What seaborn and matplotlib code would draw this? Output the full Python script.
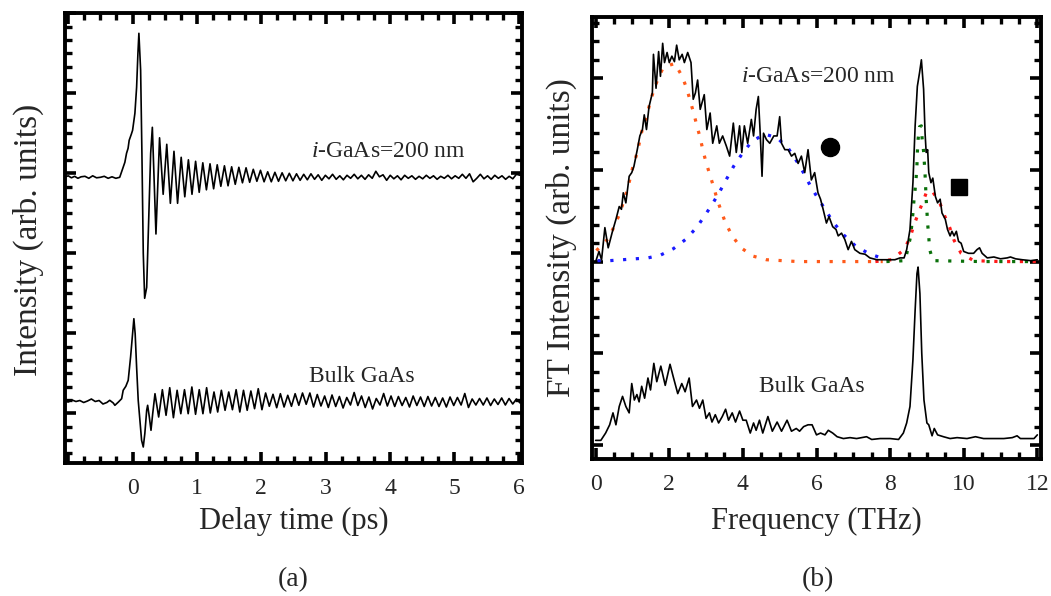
import numpy as np
import matplotlib
matplotlib.use("Agg")
import matplotlib.pyplot as plt
import seaborn as sns
from matplotlib.ticker import MultipleLocator, FixedLocator

# ---------------- (a) time-domain traces ----------------
# time in ps, signal in arb. units relative to each trace's own baseline
igaas_pulse_t = [-1.06, -1.0, -0.95, -0.9, -0.85, -0.8, -0.74, -0.68, -0.62, -0.56, -0.5,
                 -0.44, -0.38, -0.32, -0.26, -0.2, -0.147, -0.12, -0.094, -0.07, -0.053,
                 -0.02, 0.0, 0.036, 0.0625, 0.083, 0.098, 0.125, 0.145, 0.166, 0.1875,
                 0.219, 0.25, 0.281]
igaas_pulse_v = [0.0, 0.15, -0.05, 0.1, -0.1, 0.05, 0.1, -0.1, 0.15, -0.05, 0.0,
                 0.1, -0.1, 0.05, -0.1, 0.0, 1.0, 1.5, 2.4, 2.9, 3.7,
                 4.3, 4.7, 6.4, 9.0, 12.4, 14.4, 10.7, 2.4, -7.6, -12.1,
                 -11.0, -4.3, 2.4]
igaas_tail_t0 = 0.307      # first phonon peak after the pulse (ps)
igaas_tail_dt = 0.056      # spacing of successive extrema (ps)
igaas_tail_v = [5.0, -5.67, 3.95, -1.7, 3.3, -2.6, 2.6, -2.6, 2.0, -1.95, 1.75, -1.7, 1.6,
                -1.5, 1.45, -1.25, 1.35, -1.15, 1.25, -0.9, 1.15, -0.85, 1.05, -0.7, 1.0,
                -0.55, 0.95, -0.5, 0.8, -0.4, 0.7, -0.45, 0.55,
                -0.45, 0.5, -0.4, 0.45, -0.35, 0.4, -0.35, 0.35, -0.3, 0.3,
                -0.25, 0.35, -0.2, 0.25, -0.3, 0.2, -0.15, 0.3, -0.2, 0.15,
                -0.25, 0.2, -0.1, 0.3, -0.15, 0.2, -0.2, 0.25, -0.1, 0.6,
                0.05, 0.25, -0.3, 0.2, -0.15, 0.15, -0.25, 0.2, -0.1, 0.15,
                -0.2, 0.1, -0.15, 0.2, -0.1, 0.15, -0.2, 0.1, -0.1, 0.2,
                -0.15, 0.15, -0.1, 0.3, -0.1, 0.35, -0.45, -0.1, 0.3, -0.15,
                0.15, -0.2, 0.2, -0.1, 0.15, -0.2, 0.1, -0.15, 0.3, 0.2, 0.3]
igaas_offset = 23.6

bulk_pulse_t = [-1.06, -1.0, -0.94, -0.88, -0.82, -0.76, -0.7, -0.64, -0.58, -0.52, -0.46,
                -0.4, -0.355, -0.3, -0.275, -0.22, -0.17, -0.146, -0.105, -0.068, -0.031,
                0.0, 0.02, 0.04, 0.0625, 0.0875, 0.114, 0.14, 0.166, 0.19, 0.219, 0.234,
                0.26, 0.286, 0.3125]
bulk_pulse_v = [0.1, 0.0, 0.2, 0.05, 0.15, -0.05, 0.1, 0.3, 0.05, 0.15, -0.2,
                -0.05, 0.17, -0.1, -0.33, 0.0, 0.33, 1.17, 1.57, 2.17, 4.5,
                6.83, 8.33, 6.83, 3.5, 0.17, -1.83, -3.83, -4.5, -3.17, -0.83, -0.33,
                -1.5, -2.83, -1.17]
bulk_tail_t0 = 0.348
bulk_tail_dt = 0.0573
bulk_tail_v = [0.83, -1.5, 1.23, -1.33, 1.43, -1.57, 1.17, -1.17, 1.23, -1.17, 1.5, -1.23,
               1.23, -1.17, 1.43, -1.1, 1.0, -1.0, 1.17, -0.83, 1.0, -0.77, 1.23, -1.0,
               1.17, -0.83, 1.1, -0.67, 1.33, -0.77, 0.9, -0.43, 0.77, -0.57, 0.83, -0.5,
               0.67, -0.43, 0.83, -0.33, 0.9, -0.23,
               0.9, -0.5, 0.75, -0.4, 0.6, -0.55, 0.7, -0.45, 0.55, -0.6, 0.45, -0.3,
               0.95, -0.35, 0.6, -0.55, 0.5, -0.7, 0.35, -0.3, 0.85, -0.4, 0.6, -0.45,
               0.55, -0.35, 0.45, -0.5, 0.6, -0.35, 0.5, -0.45, 0.55, -0.4, 0.45, -0.45,
               0.4, -0.5, 0.5, -0.35, 0.45, -0.3, 0.85, -0.55, 0.3, -0.3, 0.35, -0.3,
               0.4, -0.35, 0.3, -0.25, 0.4, -0.3, 0.35, -0.2, 0.3, -0.1, 0.2]
bulk_offset = 1.13

# ---------------- (b) FT spectra ----------------
igaas_f = [0.0, 0.09, 0.16, 0.25, 0.34, 0.45, 0.55, 0.64, 0.70, 0.75, 0.82, 0.91, 0.98, 1.04,
           1.13, 1.20, 1.27, 1.32, 1.38, 1.45, 1.54, 1.57, 1.64, 1.71, 1.76, 1.82, 1.87, 1.94,
           2.00, 2.07, 2.14, 2.20, 2.27, 2.35, 2.41, 2.50, 2.59, 2.65, 2.71, 2.77, 2.84, 2.95,
           3.02, 3.11, 3.18, 3.29, 3.36, 3.45, 3.55, 3.64, 3.74, 3.82, 3.91, 3.97, 4.04, 4.13,
           4.23, 4.29, 4.36, 4.42, 4.47, 4.52, 4.56, 4.64, 4.73, 4.84, 4.93, 5.00, 5.05, 5.14,
           5.23, 5.32, 5.41, 5.50, 5.59, 5.68, 5.77, 5.86, 5.95, 6.04, 6.11, 6.18, 6.27, 6.34,
           6.44, 6.53, 6.59, 6.68, 6.77, 6.86, 6.95, 7.04, 7.18, 7.32, 7.45, 7.64, 7.82, 8.00,
           8.13, 8.27, 8.38, 8.45, 8.54, 8.62, 8.68, 8.74, 8.80, 8.85, 8.91, 8.95, 8.98, 9.02,
           9.05, 9.11, 9.16, 9.23, 9.29, 9.36, 9.41, 9.50, 9.56, 9.63, 9.68, 9.74, 9.80, 9.86,
           9.93, 10.00, 10.13, 10.27, 10.36, 10.43, 10.50, 10.64, 10.82, 11.00, 11.18, 11.27,
           11.41, 11.59, 11.82, 12.00]
igaas_amp = [0.00, 0.11, 0.02, 0.37, 0.15, 0.32, 0.46, 0.60, 0.57, 0.75, 0.64, 0.93, 0.97, 1.04,
             1.22, 1.37, 1.44, 1.60, 1.44, 1.69, 1.84, 2.26, 1.89, 2.29, 2.02, 2.38, 2.17, 2.28,
             2.17, 2.24, 2.18, 2.36, 2.20, 2.26, 2.17, 2.28, 2.17, 1.77, 1.84, 1.98, 1.66, 1.82,
             1.44, 1.62, 1.29, 1.48, 1.29, 1.37, 1.26, 1.15, 1.51, 1.19, 1.48, 1.19, 1.48, 1.29,
             1.55, 1.37, 1.66, 1.80, 1.40, 0.93, 1.40, 1.33, 1.29, 1.37, 1.37, 1.58, 1.29, 1.22,
             1.22, 1.15, 1.18, 1.07, 1.15, 0.97, 1.22, 0.89, 0.97, 0.75, 0.68, 0.57, 0.42, 0.49,
             0.38, 0.35, 0.28, 0.31, 0.24, 0.13, 0.22, 0.13, 0.09, 0.08, 0.04, 0.02, 0.02, 0.02,
             0.02, 0.04, 0.04, 0.13, 0.35, 0.86, 1.48, 1.91, 2.06, 2.20, 1.88, 1.40, 1.19, 1.22,
             0.97, 0.86, 0.91, 0.71, 0.64, 0.68, 0.53, 0.46, 0.35, 0.28, 0.33, 0.28, 0.33, 0.22,
             0.20, 0.11, 0.09, 0.09, 0.13, 0.15, 0.09, 0.04, 0.05, 0.03, 0.04, 0.05,
             0.03, 0.02, 0.01, 0.02]
igaas_spec_offset = 2.0

fit1_f = [0.02, 0.34, 0.50, 0.65, 0.86, 1.02, 1.13, 1.27, 1.38, 1.47, 1.57, 1.68, 1.84, 2.15,
          2.35, 2.48, 2.57, 2.67, 2.75, 2.84, 2.91, 3.00, 3.10, 3.20, 3.30, 3.41, 3.53, 3.71,
          3.95, 4.27, 4.64, 5.50, 6.50, 7.80]
fit1_amp = [0.12, 0.25, 0.38, 0.52, 0.78, 1.05, 1.19, 1.45, 1.58, 1.72, 1.86, 1.98, 2.12, 2.16,
            2.02, 1.88, 1.75, 1.61, 1.48, 1.35, 1.22, 1.08, 0.95, 0.82, 0.68, 0.55, 0.42, 0.28,
            0.15, 0.06, 0.02, 0.0, 0.0, 0.0]
fit2_f = [0.05, 0.38, 0.73, 1.07, 1.42, 1.76, 2.11, 2.44, 2.74, 2.98, 3.19, 3.38, 3.57, 3.75,
          3.97, 4.24, 4.59, 4.93, 5.24, 5.47, 5.66, 5.84, 6.04, 6.25, 6.45, 6.74, 7.06, 7.41, 7.75]
fit2_amp = [0.01, 0.01, 0.02, 0.03, 0.04, 0.07, 0.14, 0.24, 0.37, 0.51, 0.64, 0.77, 0.91, 1.04,
            1.17, 1.31, 1.39, 1.35, 1.23, 1.09, 0.96, 0.82, 0.69, 0.56, 0.43, 0.29, 0.17, 0.09, 0.04]
fit3_f = [7.60, 8.04, 8.38, 8.54, 8.65, 8.78, 8.91, 9.00, 9.16, 9.36, 9.48, 9.62, 9.74, 9.93,
          10.27, 11.00, 12.00]
fit3_amp = [0.0, 0.02, 0.13, 0.26, 0.40, 0.54, 0.67, 0.77, 0.76, 0.63, 0.50, 0.37, 0.23, 0.09,
            0.01, 0.0, 0.0]
fit4_f = [7.90, 8.41, 8.56, 8.62, 8.65, 8.68, 8.71, 8.73, 8.74, 8.76, 8.80, 8.85, 8.87, 8.91,
          8.93, 8.95, 8.98, 9.00, 9.02, 9.05, 9.07, 9.16, 10.5, 12.0]
fit4_amp = [0.0, 0.01, 0.28, 0.53, 0.68, 0.79, 0.93, 1.06, 1.19, 1.33, 1.47, 1.48, 1.34, 1.20,
            1.08, 0.95, 0.68, 0.55, 0.41, 0.28, 0.14, 0.01, 0.0, 0.0]

bulk_f = [0.00, 0.14, 0.27, 0.38, 0.47, 0.55, 0.64, 0.73, 0.82, 0.91, 0.98, 1.05, 1.12, 1.18,
          1.25, 1.33, 1.42, 1.49, 1.58, 1.66, 1.77, 1.89, 2.02, 2.11, 2.23, 2.34, 2.43, 2.54,
          2.63, 2.74, 2.82, 2.91, 3.00, 3.09, 3.16, 3.25, 3.34, 3.44, 3.53, 3.61, 3.71, 3.80,
          3.91, 4.00, 4.09, 4.20, 4.29, 4.36, 4.45, 4.54, 4.68, 4.80, 4.93, 5.05, 5.20, 5.32,
          5.45, 5.54, 5.65, 5.77, 5.88, 6.00, 6.11, 6.23, 6.32, 6.44, 6.56, 6.73, 6.91, 7.09,
          7.36, 7.50, 7.73, 8.00, 8.23, 8.36, 8.45, 8.54, 8.62, 8.68, 8.73, 8.76, 8.81, 8.86,
          8.92, 9.00, 9.05, 9.14, 9.20, 9.29, 9.45, 9.63, 9.82, 10.09, 10.32, 10.54, 10.82,
          11.09, 11.32, 11.45, 11.54, 11.73, 11.91, 12.00]
bulk_amp = [0.05, 0.05, 0.13, 0.22, 0.35, 0.22, 0.42, 0.53, 0.42, 0.35, 0.67, 0.49, 0.55, 0.47,
            0.64, 0.51, 0.73, 0.60, 0.89, 0.69, 0.86, 0.65, 0.88, 0.74, 0.56, 0.67, 0.58, 0.73,
            0.42, 0.49, 0.40, 0.49, 0.29, 0.35, 0.25, 0.33, 0.24, 0.31, 0.39, 0.27, 0.35, 0.25,
            0.37, 0.27, 0.27, 0.13, 0.24, 0.16, 0.27, 0.13, 0.31, 0.15, 0.25, 0.15, 0.27, 0.15,
            0.18, 0.15, 0.20, 0.22, 0.22, 0.11, 0.13, 0.11, 0.16, 0.13, 0.09, 0.07, 0.08, 0.07,
            0.09, 0.06, 0.07, 0.07, 0.06, 0.13, 0.24, 0.42, 0.93, 1.47, 1.87, 1.94, 1.65, 1.00,
            0.49, 0.24, 0.22, 0.10, 0.18, 0.11, 0.09, 0.07, 0.08, 0.07, 0.09, 0.07, 0.07,
            0.07, 0.08, 0.10, 0.07, 0.07, 0.07, 0.11]

circle_mark = (6.36, 3.25)
square_mark = (9.86, 2.81)

time_ticks = [0, 1, 2, 3, 4, 5, 6]
freq_ticks = [0, 2, 4, 6, 8, 10, 12]

# ---------------- style ----------------
sns.set_theme(style="ticks")
plt.rcParams["font.family"] = ["Liberation Serif", "DejaVu Serif"]
plt.rcParams["mathtext.fontset"] = "custom"
plt.rcParams["mathtext.rm"] = "Liberation Serif"
plt.rcParams["mathtext.it"] = "Liberation Serif:italic"

fig = plt.figure(figsize=(10.51, 5.96), dpi=100)
W, H = 1051, 596
axL = fig.add_axes([65 / W, 1 - 463 / H, 457 / W, 450 / H])
axR = fig.add_axes([592 / W, 1 - 459 / H, 449 / W, 442 / H])

def style(ax):
    for s in ax.spines.values():
        s.set_linewidth(2.8)
        s.set_color("black")
        s.set_visible(True)
    ax.tick_params(which="both", direction="in", top=True, bottom=True, left=True, right=True,
                   color="black", labelsize=17, pad=11)
    ax.tick_params(which="major", length=8, width=2.6)
    ax.tick_params(which="minor", length=5, width=2.4)
    ax.tick_params(axis="y", which="both", labelleft=False, left=True, right=True)
    ax.grid(False)
    ax.set_facecolor("white")

# ---- (a)
t_ig = np.concatenate([igaas_pulse_t, igaas_tail_t0 + igaas_tail_dt * np.arange(len(igaas_tail_v))])
v_ig = np.concatenate([igaas_pulse_v, igaas_tail_v]) + igaas_offset
t_bk = np.concatenate([bulk_pulse_t, bulk_tail_t0 + bulk_tail_dt * np.arange(len(bulk_tail_v))])
v_bk = np.concatenate([bulk_pulse_v, bulk_tail_v]) + bulk_offset

sns.lineplot(x=t_ig, y=v_ig, ax=axL, color="black", lw=1.2, sort=False, estimator=None)
sns.lineplot(x=t_bk, y=v_bk, ax=axL, color="black", lw=1.2, sort=False, estimator=None)
axL.set_xlim(-1.05, 6.05)
axL.set_ylim(-4.97, 40.03)
axL.xaxis.set_major_locator(FixedLocator([-1] + time_ticks))
axL.set_xticklabels([""] + [str(v) for v in time_ticks])
axL.xaxis.set_minor_locator(MultipleLocator(0.25))
axL.yaxis.set_major_locator(MultipleLocator(8))
axL.yaxis.set_minor_locator(MultipleLocator(8 / 6))
style(axL)
axL.text(2.77, 26.16, r"$i$-GaAs=200 nm", fontsize=17, va="center", ha="left")
axL.text(2.74, 3.66, "Bulk GaAs", fontsize=17, va="center", ha="left")
axL.set_xlabel("Delay time (ps)", fontsize=22)
axL.set_ylabel("Intensity (arb. units)", fontsize=24)
axL.xaxis.set_label_coords(0.5, -0.098)
axL.yaxis.set_label_coords(-0.045, 0.496)

# ---- (b)
dots = (0, (1, 3))
sns.lineplot(x=fit1_f, y=np.array(fit1_amp) + igaas_spec_offset, ax=axR, color="#ff5a1a",
             lw=2.3, sort=False, estimator=None, linestyle=dots)
sns.lineplot(x=fit2_f, y=np.array(fit2_amp) + igaas_spec_offset, ax=axR, color="#1a1aff",
             lw=2.3, sort=False, estimator=None, linestyle=dots)
sns.lineplot(x=fit3_f, y=np.array(fit3_amp) + igaas_spec_offset, ax=axR, color="#ff1a1a",
             lw=2.3, sort=False, estimator=None, linestyle=dots)
sns.lineplot(x=fit4_f, y=np.array(fit4_amp) + igaas_spec_offset, ax=axR, color="#0a700a",
             lw=2.3, sort=False, estimator=None, linestyle=dots)
sns.lineplot(x=igaas_f, y=np.array(igaas_amp) + igaas_spec_offset, ax=axR, color="black",
             lw=1.2, sort=False, estimator=None)
sns.lineplot(x=bulk_f, y=bulk_amp, ax=axR, color="black", lw=1.2, sort=False, estimator=None)
axR.plot([circle_mark[0]], [circle_mark[1]], marker="o", ms=13, color="black", ls="none")
axR.plot([square_mark[0]], [square_mark[1]], marker="s", ms=11, color="black", ls="none")
axR.set_xlim(-0.1, 12.1)
axR.set_ylim(-0.153, 4.667)
axR.xaxis.set_major_locator(FixedLocator(freq_ticks))
axR.set_xticklabels([str(v) for v in freq_ticks])
axR.xaxis.set_minor_locator(MultipleLocator(0.5))
axR.yaxis.set_major_locator(MultipleLocator(1))
axR.yaxis.set_minor_locator(MultipleLocator(0.2))
style(axR)
axR.text(3.95, 4.02, r"$i$-GaAs=200 nm", fontsize=17, va="center", ha="left")
axR.text(4.45, 0.64, "Bulk GaAs", fontsize=17, va="center", ha="left")
axR.set_xlabel("Frequency (THz)", fontsize=22)
axR.set_ylabel("FT Intensity (arb. units)", fontsize=24)
axR.xaxis.set_label_coords(0.5, -0.109)
axR.yaxis.set_label_coords(-0.033, 0.5)

fig.text(293 / W, 1 - 580 / H, "(a)", fontsize=20, ha="center", va="center")
fig.text(818 / W, 1 - 580 / H, "(b)", fontsize=20, ha="center", va="center")

fig.savefig("out.png", dpi=100, facecolor="white")
